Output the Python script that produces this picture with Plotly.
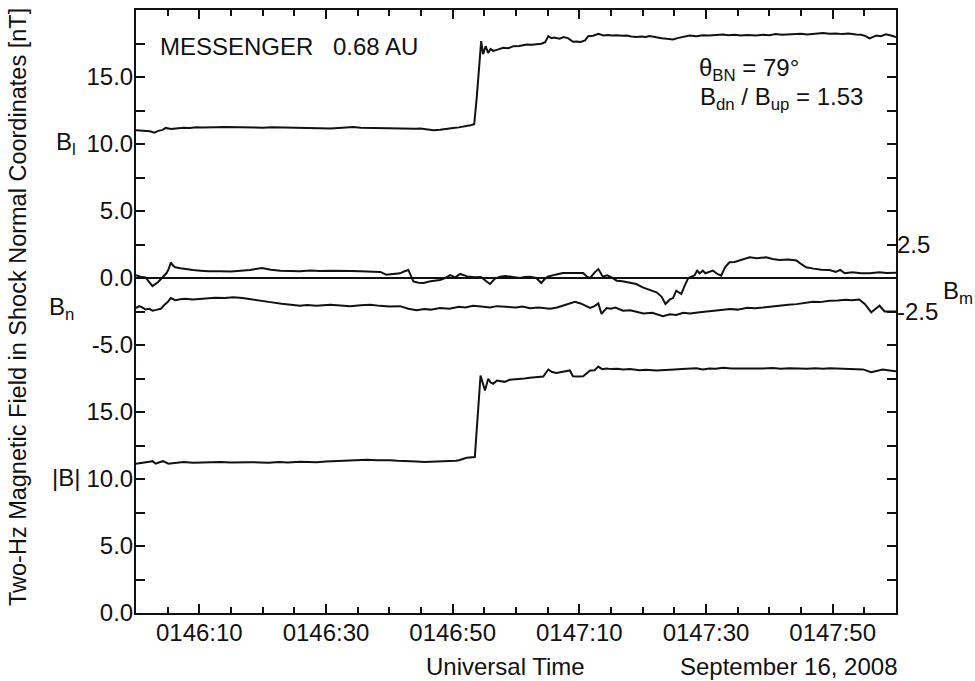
import plotly.graph_objects as go

# Time axis: seconds after 01:46:00 UT, 16 September 2008 (MESSENGER shock crossing)
x_tickvals = [10, 30, 50, 70, 90, 110]
x_ticktext = ["0146:10", "0146:30", "0146:50", "0147:10", "0147:30", "0147:50"]

# Left axis: one scale shared by B_l (top) and B_n (middle); |B| is shifted down by 25 nT
B_TOTAL_OFFSET = -25.0
y_tickvals = [20, 17.5, 15, 12.5, 10, 7.5, 5, 2.5, 0, -2.5, -5, -7.5, -10,
              -12.5, -15, -17.5, -20, -22.5, -25]
y_ticktext = ["", "", "15.0", "", "10.0", "", "5.0", "", "0.0", "", "-5.0", "",
              "15.0", "", "10.0", "", "5.0", "", "0.0"]
# Right axis labels for B_m
bm_tickvals = [2.5, -2.5]
bm_ticktext = ["2.5", "-2.5"]

# (time [s after 01:46:00], B_l [nT])
bl_samples = [
    (0, 11.03), (0.8, 11.0), (1.6, 11.02), (2.2, 10.95), (2.9, 10.85), (3.5, 10.98),
    (4.2, 11.05), (4.7, 11.2), (5.5, 11.12), (6.5, 11.18), (7.5, 11.22), (8.5, 11.2),
    (9.5, 11.25), (10.5, 11.24), (11.5, 11.27), (12.5, 11.25), (14, 11.27),
    (15.5, 11.25), (17, 11.28), (18.5, 11.24), (20, 11.22), (21.5, 11.25),
    (23, 11.23), (24.5, 11.2), (26, 11.18), (27.5, 11.2), (29, 11.16), (30.7, 11.15),
    (32, 11.2), (33.5, 11.24), (34.3, 11.27), (35.5, 11.22), (37, 11.2),
    (38.5, 11.23), (39.6, 11.2), (41, 11.17), (42.5, 11.18), (44, 11.14),
    (44.9, 11.15), (46, 11.08), (47, 11.03), (48, 11.06), (49, 11.1), (50.1, 11.2),
    (51, 11.24), (52, 11.3), (52.8, 11.4), (53.4, 11.47), (53.8, 13.46),
    (54.5, 17.68), (54.8, 16.7), (55.2, 17.3), (55.6, 16.8), (56.0, 17.1),
    (56.4, 16.95), (57.2, 17.06), (58.0, 17.18), (58.8, 17.15), (59.6, 17.3),
    (60.5, 17.32), (61.0, 17.38), (61.7, 17.43), (62.5, 17.4), (63.2, 17.45),
    (64.0, 17.48), (64.6, 17.6), (65.1, 18.05), (65.6, 17.9), (66.0, 17.95),
    (66.9, 17.86), (67.5, 17.98), (68.2, 17.9), (69.0, 17.63), (69.6, 17.65),
    (70.2, 17.62), (70.9, 17.73), (71.4, 18.05), (72.2, 18.08), (73.0, 18.23),
    (73.8, 18.1), (74.5, 18.14), (75.2, 18.1), (76.0, 18.12), (76.8, 18.08),
    (77.5, 18.1), (78.2, 18.02), (79.0, 17.98), (79.8, 18.02), (80.5, 17.98),
    (81.1, 18.05), (82, 17.96), (83, 17.9), (83.8, 17.85), (84.8, 17.8),
    (85.5, 17.9), (86.2, 17.97), (87.4, 18.1), (88.5, 18.05), (89.5, 18.12),
    (90.5, 18.1), (91.5, 18.15), (92.7, 18.18), (93.5, 18.12), (94.5, 18.16),
    (95.5, 18.1), (96.5, 18.14), (97.9, 18.1), (99, 18.15), (100, 18.12),
    (101, 18.2), (102, 18.15), (103.2, 18.18), (104, 18.15), (105, 18.22),
    (106, 18.18), (107, 18.24), (108.5, 18.28), (109.5, 18.22), (110.5, 18.25),
    (111.5, 18.2), (112.5, 18.24), (113.7, 18.18), (114.5, 18.15), (115.2, 18.05),
    (115.8, 17.88), (116.4, 18.0), (116.9, 18.1), (117.6, 18.05), (118.4, 18.18),
    (119.2, 18.1), (120, 17.98),
]

# (time, B_n [nT])
bn_samples = [
    (0, -2.24), (0.5, -2.1), (1.0, -2.2), (1.5, -2.35), (2.1, -2.3), (2.6, -2.44),
    (3.2, -2.38), (3.9, -2.3), (4.5, -2.0), (5.0, -1.8), (5.5, -1.5), (6.2, -1.65),
    (7.0, -1.58), (7.8, -1.55), (9, -1.6), (10.2, -1.55), (11.5, -1.52),
    (12.5, -1.48), (14, -1.5), (15.4, -1.43), (16.8, -1.5), (18.1, -1.6),
    (19.5, -1.68), (21.2, -1.8), (23, -1.92), (24.5, -2.0), (25.9, -2.07),
    (27, -2.02), (28.5, -2.08), (30.7, -2.0), (32, -2.06), (33.8, -2.1),
    (35.5, -2.04), (37.0, -2.0), (38.5, -2.08), (40, -2.12), (41.7, -2.1),
    (43, -2.3), (44.3, -2.4), (45.5, -2.32), (46.5, -2.36), (48.0, -2.24),
    (49.5, -2.3), (51, -2.15), (52, -2.2), (53.2, -2.07), (54.5, -2.12),
    (55.9, -2.2), (57, -2.1), (58.5, -2.15), (60, -2.2), (61, -2.12), (62.2, -2.25),
    (63.5, -2.2), (65.4, -2.3), (66.5, -2.2), (67.7, -2.0), (68.5, -1.85),
    (69.3, -1.77), (70.2, -1.9), (71.0, -2.1), (71.7, -2.24), (72.4, -2.1),
    (73.0, -1.9), (73.5, -2.68), (74.3, -2.24), (75, -2.3), (75.7, -2.2),
    (76.9, -2.44), (78, -2.4), (79, -2.52), (80.1, -2.64), (81.5, -2.6),
    (82.5, -2.75), (83.2, -2.86), (84.3, -2.7), (85.3, -2.76), (86.4, -2.59),
    (87.5, -2.64), (89.0, -2.55), (90.5, -2.5), (92, -2.4), (93.8, -2.31),
    (95, -2.36), (96.5, -2.22), (97.7, -2.25), (99, -2.2), (100.3, -2.12),
    (101.6, -2.07), (103, -2.0), (104.3, -1.95), (105.5, -1.85), (106.9, -1.77),
    (108, -1.8), (109.5, -1.7), (110.8, -1.68), (112.1, -1.62), (113, -1.66),
    (114.2, -1.6), (115.1, -1.95), (115.6, -2.3), (116.1, -2.56), (116.8, -2.3),
    (117.4, -2.07), (118.2, -2.5), (119, -2.5), (120, -2.5),
]

# (time, B_m [nT])
bm_samples = [
    (0, 0.2), (0.7, 0.1), (1.5, 0.05), (2.1, -0.3), (2.6, -0.6), (3.5, -0.3),
    (4.3, 0.1), (4.8, 0.35), (5.1, 0.6), (5.5, 1.15), (5.9, 0.9), (6.2, 0.8),
    (7.0, 0.72), (7.8, 0.65), (9, 0.6), (10.2, 0.55), (11.5, 0.5), (13.3, 0.5),
    (15, 0.48), (16.5, 0.55), (18, 0.6), (19.9, 0.75), (21.3, 0.62), (22.8, 0.55),
    (24.3, 0.52), (25.9, 0.5), (27.5, 0.56), (29, 0.52), (30.7, 0.55),
    (32.5, 0.56), (34, 0.52), (35.4, 0.5), (37, 0.48), (38.6, 0.45), (39.5, 0.25),
    (40.5, 0.28), (41.7, 0.35), (42.4, 0.5), (43.0, 0.6), (43.8, -0.25),
    (44.6, -0.35), (45.4, -0.37), (46.5, -0.25), (48.0, -0.15), (48.8, 0.0),
    (49.6, 0.22), (50.4, 0.05), (51.2, 0.3), (52.3, 0.12), (53.5, 0.05),
    (54.5, 0.08), (55.2, -0.2), (55.9, -0.45), (56.7, -0.05), (57.5, 0.1),
    (58.3, 0.15), (59.5, 0.05), (60.6, 0.0), (61.4, 0.08), (62.2, 0.1), (63.2, 0.0),
    (64.0, -0.37), (64.5, -0.1), (65.0, 0.1), (66.2, 0.25), (67.4, 0.37),
    (69, 0.38), (70.6, 0.37), (71.2, 0.1), (71.7, 0.0), (72.4, 0.4), (73.0, 0.67),
    (73.7, 0.1), (74.4, 0.2), (75.1, 0.05), (75.9, -0.2), (76.8, -0.25),
    (78.0, -0.33), (79, -0.45), (80.0, -0.7), (81, -0.85), (82.2, -1.07),
    (83.0, -1.4), (83.6, -1.94), (84.3, -1.6), (84.8, -1.5), (85.3, -0.95),
    (86.1, -1.2), (86.6, -0.6), (87.2, 0.0), (88.2, 0.2), (88.6, 0.55), (89.0, 0.35),
    (89.5, 0.55), (89.9, 0.35), (90.5, 0.45), (91.1, 0.55), (91.8, 0.3),
    (92.4, 0.17), (93.0, 0.8), (93.7, 1.17), (94.5, 1.2), (95.5, 1.35),
    (96.9, 1.54), (98, 1.48), (99.5, 1.54), (100.5, 1.42), (101.6, 1.35),
    (103, 1.38), (104.3, 1.3), (105.0, 1.05), (105.8, 0.8), (107, 0.7),
    (108.2, 0.62), (109.5, 0.6), (110.5, 0.45), (111.2, 0.6), (111.9, 0.35),
    (113.1, 0.42), (114.5, 0.35), (115.8, 0.35), (117.4, 0.42), (118.5, 0.38),
    (120, 0.4),
]

# (time, |B| [nT])
bt_samples = [
    (0, 11.14), (0.8, 11.18), (1.5, 11.2), (2.1, 11.28), (2.6, 11.33), (3.1, 11.15),
    (3.7, 11.25), (4.3, 11.33), (5.1, 11.14), (6, 11.2), (7.5, 11.26), (9, 11.22),
    (10, 11.24), (11.5, 11.27), (13.3, 11.26), (15, 11.24), (16.5, 11.22),
    (18, 11.25), (19.6, 11.24), (21, 11.22), (22.5, 11.27), (24, 11.24),
    (25.9, 11.28), (27, 11.26), (28.5, 11.25), (30, 11.3), (31.1, 11.33),
    (32.5, 11.36), (34, 11.38), (35.3, 11.42), (36.5, 11.44), (38, 11.4),
    (39, 11.42), (40.1, 11.4), (41.3, 11.36), (42.5, 11.35), (43.5, 11.3),
    (44.3, 11.31), (45.5, 11.26), (47, 11.28), (48.3, 11.3), (49.6, 11.31),
    (50.5, 11.36), (51, 11.4), (52.2, 11.59), (53.5, 11.64), (54.4, 17.72),
    (55.1, 16.6), (55.6, 17.47), (56.0, 17.2), (56.4, 17.1), (57.0, 17.35),
    (57.5, 17.3), (58.2, 17.25), (59.0, 17.4), (59.8, 17.42), (60.5, 17.48),
    (61.3, 17.5), (62.2, 17.55), (63.3, 17.6), (64.3, 17.65), (65.1, 18.17),
    (65.7, 17.98), (66.4, 17.92), (67.5, 18.0), (68.5, 18.1), (69.0, 17.67),
    (69.8, 17.64), (70.6, 17.67), (71.2, 17.9), (71.7, 18.1), (72.4, 18.12),
    (73.0, 18.39), (73.6, 18.2), (74.3, 18.25), (75, 18.2), (76, 18.22),
    (76.9, 18.17), (78, 18.2), (79.5, 18.12), (80.5, 18.15), (82.2, 18.1),
    (83.5, 18.16), (85, 18.18), (86.2, 18.2), (87.4, 18.22), (88.5, 18.26),
    (89.5, 18.18), (90.5, 18.25), (91.5, 18.22), (92.7, 18.3), (94, 18.25),
    (95.5, 18.24), (96.8, 18.26), (97.9, 18.22), (99, 18.25), (100.5, 18.28),
    (101.8, 18.22), (103.2, 18.26), (104.5, 18.24), (106, 18.22), (107.2, 18.27),
    (108.5, 18.22), (109.5, 18.26), (111, 18.25), (112.3, 18.2), (113.7, 18.22),
    (114.8, 18.18), (116.1, 17.97), (116.8, 18.05), (117.9, 18.17), (119, 18.1),
    (120, 18.04),
]


def unzip(samples):
    return [s[0] for s in samples], [s[1] for s in samples]


FONT = "Liberation Sans, Arial, Helvetica, sans-serif"
INK = "#111111"
line_style = dict(color=INK, width=2)

fig = go.Figure()
t, v = unzip(bl_samples)
# B_l is drawn against the mirrored top time axis (same scale) so that axis carries ticks
fig.add_trace(go.Scatter(x=t, y=v, mode="lines", line=line_style, name="B_l",
                         xaxis="x2"))
t, v = unzip(bn_samples)
fig.add_trace(go.Scatter(x=t, y=v, mode="lines", line=line_style, name="B_n"))
t, v = unzip(bm_samples)
fig.add_trace(go.Scatter(x=t, y=v, mode="lines", line=line_style, name="B_m",
                         yaxis="y2"))
t, v = unzip(bt_samples)
fig.add_trace(go.Scatter(x=t, y=[b + B_TOTAL_OFFSET for b in v], mode="lines",
                         line=line_style, name="|B|"))

# Figure geometry (pixels)
W, H = 975, 681
ML, MR, MT, MB = 136, 79, 8, 68
PW, PH = W - ML - MR, H - MT - MB


def px(xp):
    return (xp - ML) / PW


def py(yp):
    return (H - MB - yp) / PH


def label(text, x, y, xanchor="left", size=24, **kw):
    fig.add_annotation(text=text, x=px(x), y=py(y), xref="paper", yref="paper",
                       xanchor=xanchor, yanchor="middle", showarrow=False,
                       font=dict(family=FONT, size=size, color=INK), **kw)


label("MESSENGER", 158, 45)
label("0.68 AU", 331, 45)
label("θ<sub>BN</sub> = 79°", 697, 68)
label("B<sub>dn</sub> / B<sub>up</sub> = 1.53", 698, 97)
label("B<sub>l</sub>", 78, 142, xanchor="right")
label("B<sub>n</sub>", 47, 307)
label("|B|", 82, 477, xanchor="right")
label("B<sub>m</sub>", 941, 291)
label("Universal Time", 424, 667)
label("September 16, 2008", 678, 667)
label("Two-Hz Magnetic Field in Shock Normal Coordinates [nT]", 18, 306,
      xanchor="center", size=23.5, textangle=-90)

time_ticks = dict(
    range=[0, 120], tickmode="array", tickvals=x_tickvals,
    ticks="inside", ticklen=9, tickwidth=2, tickcolor=INK,
    minor=dict(tickmode="linear", tick0=0, dtick=5, ticks="inside", ticklen=6,
               tickwidth=2, tickcolor=INK, showgrid=False),
    showgrid=False, zeroline=False,
)

fig.update_layout(
    width=W, height=H,
    margin=dict(l=ML, r=MR, t=MT, b=MB, pad=0),
    paper_bgcolor="white", plot_bgcolor="white",
    showlegend=False,
    font=dict(family=FONT, size=24, color=INK),
    xaxis=dict(
        **time_ticks, ticktext=x_ticktext,
        showline=True, linewidth=2, linecolor=INK, mirror=True,
        ticklabelstandoff=-3,
        tickfont=dict(family=FONT, size=24, color=INK),
    ),
    xaxis2=dict(
        **time_ticks, overlaying="x", side="top", anchor="y",
        showticklabels=False, showline=False,
    ),
    yaxis=dict(
        range=[-25, 20], tickmode="array", tickvals=y_tickvals, ticktext=y_ticktext,
        ticks="inside", ticklen=9, tickwidth=2, tickcolor=INK,
        showline=True, linewidth=2, linecolor=INK, mirror="ticks",
        showgrid=False, zeroline=True, zerolinecolor=INK, zerolinewidth=1.5,
        ticklabelstandoff=-4,
        tickfont=dict(family=FONT, size=24, color=INK),
    ),
    yaxis2=dict(
        range=[-25, 20], overlaying="y", side="right", tickmode="array",
        tickvals=bm_tickvals, ticktext=bm_ticktext, ticks="",
        showline=False, showgrid=False, zeroline=False,
        tickfont=dict(family=FONT, size=24, color=INK),
    ),
)

fig.write_html("out.html")
